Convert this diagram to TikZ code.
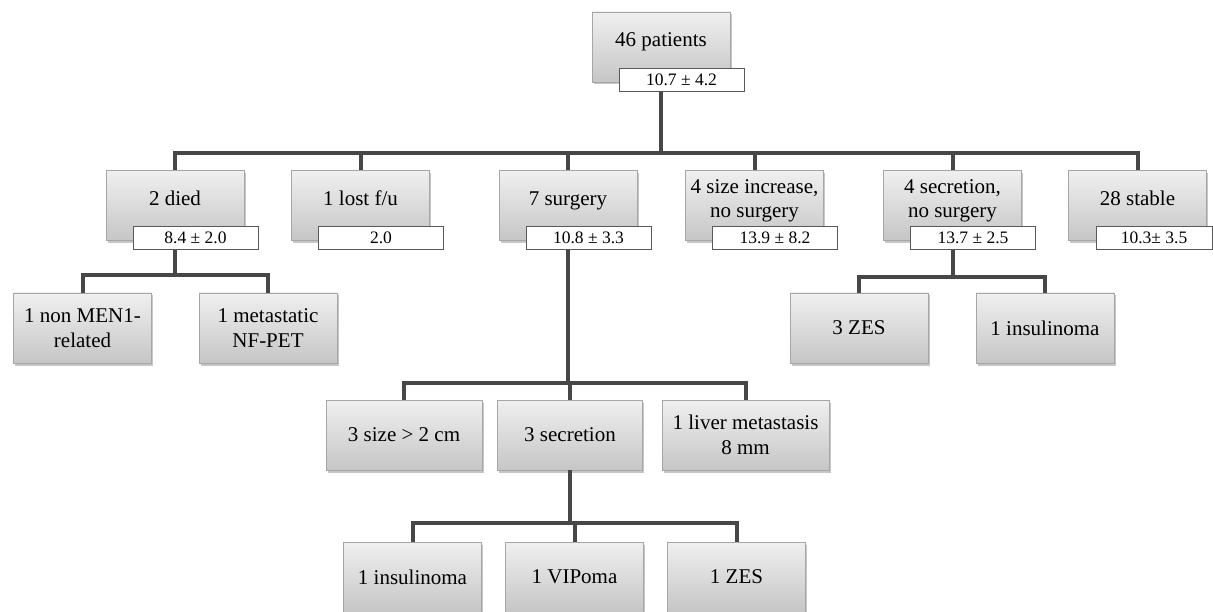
\documentclass[tikz,border=0pt]{standalone}
\usepackage{fontspec}
\setmainfont{Liberation Serif}
\usetikzlibrary{shadows}

\begin{document}
\begin{tikzpicture}[x=1pt,y=1pt,
		grbox/.style={draw=gray!70,line width=0.8pt,top color=gray!12,bottom color=gray!45,minimum width=138pt,minimum height=70pt,inner sep=2pt,align=center,font=\fontsize{21}{24.5}\selectfont,drop shadow={shadow xshift=1.5pt,shadow yshift=-2.5pt,opacity=0.45}},
		upper/.style={text depth=14pt},
		valbox/.style={draw=gray!70!black,line width=0.8pt,fill=white,minimum width=125pt,minimum height=23pt,inner sep=0pt,font=\fontsize{17.5}{19}\selectfont},
		link/.style={draw=black!72,line width=4pt}]
		\useasboundingbox (0,0) rectangle (1213,-612);
		% top
		\node[grbox,upper] (n46) at (661,-47) {46 patients};
		\node[valbox] (v46) at (681.5,-79.5) {10.7 ± 4.2};
		% first row
		\node[grbox,upper] (died) at (175,-205.5) {2 died};
		\node[valbox] (vdied) at (195.5,-238) {8.4 ± 2.0};
		\node[grbox,upper] (lost) at (360.5,-205.5) {1 lost f/u};
		\node[valbox] (vlost) at (381,-238) {2.0};
		\node[grbox,upper] (surg) at (568,-205.5) {7 surgery};
		\node[valbox] (vsurg) at (588.5,-238) {10.8 ± 3.3};
		\node[grbox,upper] (sizeinc) at (754.5,-205.5) {4 size increase,\\no surgery};
		\node[valbox] (vsizeinc) at (775,-238) {13.9 ± 8.2};
		\node[grbox,upper] (secr) at (952.5,-205.5) {4 secretion,\\no surgery};
		\node[valbox] (vsecr) at (973,-238) {13.7 ± 2.5};
		\node[grbox,upper] (stable) at (1137.5,-205.5) {28 stable};
		\node[valbox,minimum width=116pt] (vstable) at (1154,-238) {10.3± 3.5};
		% under died and secretion
		\node[grbox] (nonmen) at (82.5,-328) {1 non MEN1-\\related};
		\node[grbox] (metnf) at (268,-328) {1 metastatic\\NF-PET};
		\node[grbox] (zes3) at (859,-328) {3 ZES};
		\node[grbox] (insul3) at (1045,-328) {1 insulinoma};
		% under surgery
		\node[grbox,minimum width=156pt] (size2) at (404,-435) {3 size > 2 cm};
		\node[grbox,minimum width=145pt] (secr3) at (570,-435) {3 secretion};
		\node[grbox,minimum width=167pt] (liver) at (745.5,-435) {1 liver metastasis\\8 mm};
		\node[grbox] (insul) at (412.5,-577) {1 insulinoma};
		\node[grbox] (vipoma) at (574.5,-577) {1 VIPoma};
		\node[grbox] (zes1) at (736.5,-577) {1 ZES};
		% connectors
		\coordinate (j0) at (661,-153);
		\coordinate (j1) at (175,-275);
		\coordinate (j2) at (952.5,-277);
		\coordinate (j3) at (568,-383);
		\coordinate (j4) at (570,-523);
		\draw[link] (n46.south |- v46.south) -- (j0);
		\foreach \c in {died,lost,surg,sizeinc,secr,stable}
			\draw[link] (j0) -| (\c.north);
		\draw[link] (died.south |- vdied.south) -- (j1);
		\draw[link] (j1) -| (nonmen.north);
		\draw[link] (j1) -| (metnf.north);
		\draw[link] (secr.south |- vsecr.south) -- (j2);
		\draw[link] (j2) -| (zes3.north);
		\draw[link] (j2) -| (insul3.north);
		\draw[link] (surg.south |- vsurg.south) -- (j3);
		\foreach \c in {size2,secr3,liver}
			\draw[link] (j3) -| (\c.north);
		\draw[link] (secr3.south) -- (j4);
		\foreach \c in {insul,vipoma,zes1}
			\draw[link] (j4) -| (\c.north);
\end{tikzpicture}
\end{document}
